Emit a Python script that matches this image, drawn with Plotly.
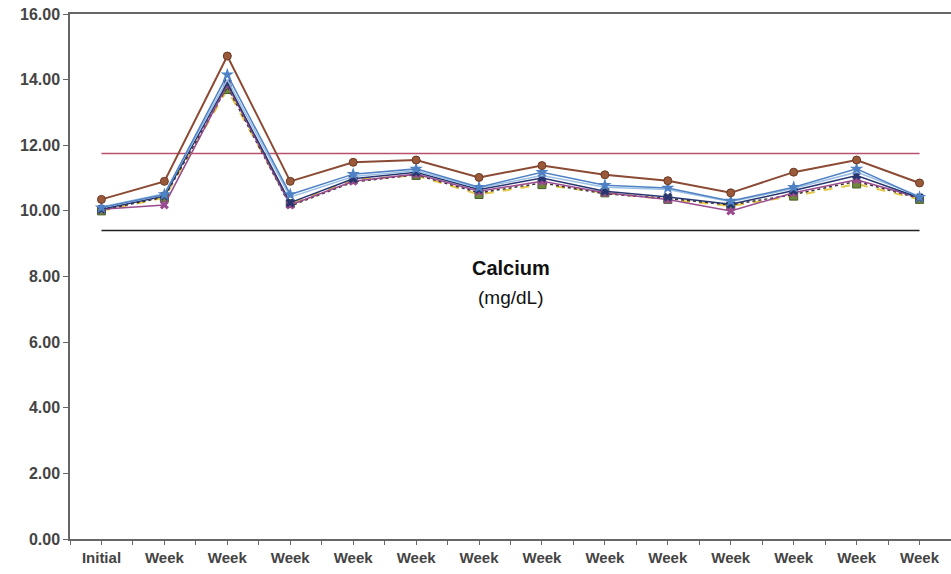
import plotly.graph_objects as go

categories = ["Initial", "Week", "Week", "Week", "Week", "Week", "Week",
              "Week", "Week", "Week", "Week", "Week", "Week", "Week"]

brown_circle = [10.35, 10.90, 14.72, 10.90, 11.48, 11.55, 11.02, 11.38, 11.10, 10.92, 10.55, 11.18, 11.55, 10.85]
blue_star = [10.10, 10.50, 14.15, 10.50, 11.12, 11.28, 10.72, 11.18, 10.78, 10.70, 10.30, 10.72, 11.28, 10.42]
light_blue = [10.12, 10.52, 14.00, 10.42, 11.05, 11.22, 10.70, 11.08, 10.72, 10.65, 10.28, 10.68, 11.18, 10.45]
navy_square = [10.05, 10.45, 13.90, 10.25, 10.98, 11.18, 10.65, 11.00, 10.60, 10.42, 10.20, 10.62, 11.08, 10.40]
purple_x = [10.05, 10.18, 13.85, 10.18, 10.90, 11.12, 10.60, 10.90, 10.55, 10.35, 10.00, 10.55, 10.95, 10.40]
yellow_green = [10.00, 10.40, 13.70, 10.22, 10.95, 11.08, 10.50, 10.80, 10.55, 10.35, 10.15, 10.45, 10.82, 10.35]
dark_dotted = [10.02, 10.42, 13.78, 10.15, 10.88, 11.10, 10.55, 10.85, 10.52, 10.38, 10.18, 10.50, 10.90, 10.38]

upper_limit = 11.75
lower_limit = 9.40

y_ticks = [0, 2, 4, 6, 8, 10, 12, 14, 16]

xi = list(range(len(categories)))

fig = go.Figure()

fig.add_trace(go.Scatter(x=[xi[0], xi[-1]], y=[upper_limit, upper_limit], mode="lines",
                         line=dict(color="#b8506e", width=1.5), showlegend=False, hoverinfo="skip"))
fig.add_trace(go.Scatter(x=[xi[0], xi[-1]], y=[lower_limit, lower_limit], mode="lines",
                         line=dict(color="#222222", width=1.5), showlegend=False, hoverinfo="skip"))

series = [
    (yellow_green, dict(color="#e3c84a", width=2, dash="dash"), dict(symbol="square", size=8, color="#6f8a3c", line=dict(color="#4a5a2a", width=1))),
    (dark_dotted, dict(color="#3a3030", width=1.5, dash="dot"), dict(symbol="circle", size=1, color="#3a3030")),
    (purple_x, dict(color="#9a4a8e", width=1.5), dict(symbol="x", size=8, color="#9a4a8e")),
    (navy_square, dict(color="#283670", width=1.5), dict(symbol="x", size=8, color="#283670")),
    (light_blue, dict(color="#9cc0e4", width=1.5), dict(symbol="circle", size=1, color="#9cc0e4")),
    (blue_star, dict(color="#4f82c4", width=1.5), dict(symbol="star", size=10, color="#4f82c4")),
    (brown_circle, dict(color="#8a4a34", width=2), dict(symbol="circle", size=8, color="#9a5a3a", line=dict(color="#6a3a24", width=1))),
]
for vals, ln, mk in series:
    fig.add_trace(go.Scatter(x=xi, y=vals, mode="lines+markers", line=ln, marker=mk,
                             showlegend=False))

fig.add_annotation(x=6.5, y=8.25, text="<b>Calcium</b>", showarrow=False,
                   font=dict(family="Liberation Sans, Arial", size=20, color="#111"))
fig.add_annotation(x=6.5, y=7.35, text="(mg/dL)", showarrow=False,
                   font=dict(family="Liberation Sans, Arial", size=19, color="#111"))

fig.update_layout(
    width=951, height=574,
    margin=dict(l=70, r=0, t=14, b=35, autoexpand=False),
    paper_bgcolor="white", plot_bgcolor="white",
    font=dict(family="Liberation Sans, Arial", color="#333"),
)
fig.update_xaxes(
    range=[-0.5, len(categories) - 0.5],
    tickmode="array", tickvals=xi, ticktext=categories,
    showgrid=False, zeroline=False, automargin=False,
    showline=True, linecolor="#666", linewidth=1.5, mirror=True,
    ticks="outside", ticklen=4, tickcolor="#666",
    minor=dict(tickmode="linear", tick0=-0.5, dtick=0.5, ticks="outside", ticklen=4, tickcolor="#666"),
    tickfont=dict(size=15, color="#444", family="Liberation Sans, Arial", weight="bold"),
    tickangle=0,
)
fig.update_yaxes(
    range=[0, 16], tickmode="array", tickvals=y_ticks,
    tickformat=".2f",
    showgrid=False, zeroline=False, automargin=False,
    showline=True, linecolor="#666", linewidth=1.5,
    ticks="outside", ticklen=5, tickcolor="#666",
    tickfont=dict(size=16, color="#444", family="Liberation Sans, Arial", weight="bold"),
)

fig.write_html(
    "out.html",
    config={"displayModeBar": False},
    post_script="document.body.style.margin='0';document.body.style.overflow='hidden';",
)
